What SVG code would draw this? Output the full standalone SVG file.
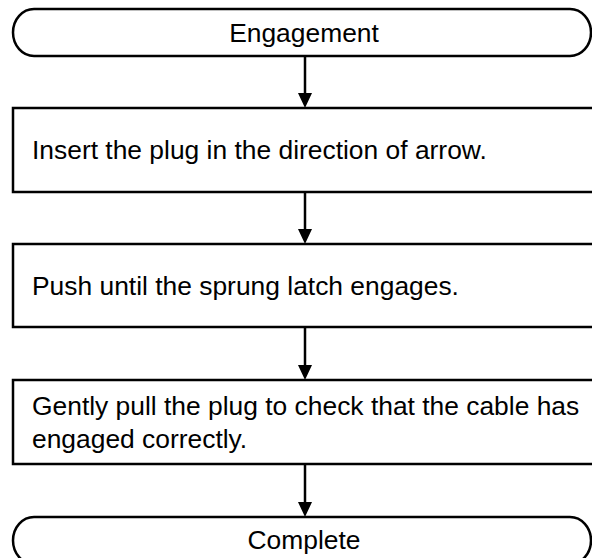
<svg xmlns="http://www.w3.org/2000/svg" width="592" height="558" viewBox="0 0 592 558">
  <style>
    .shape { fill: #ffffff; stroke: #000000; stroke-width: 2.5; }
    .label { font-family: "Liberation Sans", Arial, sans-serif; font-size: 26.4px; fill: #000000; }
    .mid { text-anchor: middle; }
    .link { fill: none; stroke: #000000; stroke-width: 2.5; }
    .head { fill: #000000; stroke: none; }
  </style>
  <rect width="592" height="558" fill="#ffffff"/>

  <!-- connectors: vertical flow lines with solid triangular heads -->
  <g id="connectors">
    <path class="link" d="M305,56 V94"/>
    <path class="head" d="M298,93 L312,93 L305,108 Z"/>
    <path class="link" d="M305,192 V230"/>
    <path class="head" d="M298,229 L312,229 L305,244 Z"/>
    <path class="link" d="M305,327 V366"/>
    <path class="head" d="M298,365 L312,365 L305,380 Z"/>
    <path class="link" d="M305,464 V503"/>
    <path class="head" d="M298,502 L312,502 L305,517 Z"/>
  </g>

  <g id="start">
    <rect class="shape" x="13" y="9" width="578" height="47" rx="21" ry="23.5"/>
    <text class="label mid" x="304" y="42">Engagement</text>
  </g>

  <g id="step-insert">
    <rect class="shape" x="13" y="108" width="582" height="84"/>
    <text class="label" x="32" y="159">Insert the plug in the direction of arrow.</text>
  </g>

  <g id="step-push">
    <rect class="shape" x="13" y="244" width="582" height="83"/>
    <text class="label" x="32" y="295">Push until the sprung latch engages.</text>
  </g>

  <g id="step-check">
    <rect class="shape" x="13" y="380" width="582" height="84"/>
    <text class="label" x="32" y="415">Gently pull the plug to check that the cable has</text>
    <text class="label" x="32" y="448">engaged correctly.</text>
  </g>

  <g id="end">
    <rect class="shape" x="13" y="517" width="578" height="47" rx="21" ry="23.5"/>
    <text class="label mid" x="304" y="549">Complete</text>
  </g>
</svg>
